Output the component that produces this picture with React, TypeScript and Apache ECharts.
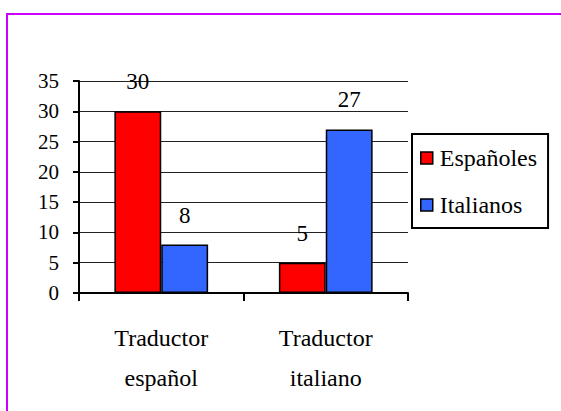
import React, { useEffect, useRef } from "react";
import * as echarts from "echarts";

const categories = ["Traductor\nespañol", "Traductor\nitaliano"];
const seriesNames = ["Españoles", "Italianos"];
const espanoles = [30, 5];
const italianos = [8, 27];
const yMin = 0;
const yMax = 35;
const yInterval = 5;

const FONT = "Liberation Serif";

const css = `.serif-chart text, .serif-chart tspan { font-family: "Liberation Serif", "Times New Roman", serif !important; }`;

export default function App() {
  const ref = useRef<HTMLDivElement>(null);
  useEffect(() => {
    if (!ref.current) return;
    const chart = echarts.init(ref.current, undefined, { renderer: "svg" });
    const barStyle = (color: string) => ({
      color,
      borderColor: "#000",
      borderWidth: 1.5,
    });
    const label = {
      show: true,
      position: "top" as const,
      distance: 18,
      fontFamily: FONT,
      fontSize: 23,
      color: "#000",
    };
    chart.setOption({
      animation: false,
      textStyle: { fontFamily: FONT },
      graphic: [
        {
          type: "rect",
          shape: { x: 7, y: 14, width: 600, height: 450 },
          style: { fill: "none", stroke: "#cc00ff", lineWidth: 2 },
          silent: true,
          z: -10,
        },
      ],
      grid: { left: 79, top: 81, right: 153, bottom: 118, containLabel: false },
      legend: {
        orient: "vertical",
        left: 412,
        top: 134,
        data: seriesNames,
        icon: "rect",
        itemWidth: 12,
        itemHeight: 12,
        itemGap: 23,
        padding: [12, 11, 11, 8],
        borderColor: "#000",
        borderWidth: 2,
        textStyle: {
          fontFamily: FONT,
          fontSize: 24,
          lineHeight: 24,
          color: "#000",
          padding: [0, 0, 0, 2],
        },
        itemStyle: { borderColor: "#000", borderWidth: 1.5 },
      },
      xAxis: {
        type: "category",
        data: categories,
        axisLine: { lineStyle: { color: "#000", width: 2 } },
        axisTick: { show: true, length: 8, lineStyle: { color: "#000", width: 2 } },
        axisLabel: {
          fontFamily: FONT,
          fontSize: 24,
          lineHeight: 40,
          color: "#000",
          margin: 25,
        },
        splitLine: { show: false },
      },
      yAxis: {
        type: "value",
        min: yMin,
        max: yMax,
        interval: yInterval,
        axisLine: { show: true, lineStyle: { color: "#000", width: 2 } },
        axisTick: { show: true, length: 6, lineStyle: { color: "#000", width: 2 } },
        axisLabel: {
          fontFamily: FONT,
          fontSize: 21,
          color: "#000",
          margin: 20,
        },
        splitLine: { show: true, lineStyle: { color: "#222", width: 1 } },
      },
      series: [
        {
          name: seriesNames[0],
          type: "bar",
          data: espanoles,
          itemStyle: barStyle("#ff0000"),
          label,
          barGap: "0%",
          barCategoryGap: "43%",
        },
        {
          name: seriesNames[1],
          type: "bar",
          data: italianos,
          itemStyle: barStyle("#3366ff"),
          label,
          barGap: "0%",
          barCategoryGap: "43%",
        },
      ],
    });
    return () => chart.dispose();
  }, []);
  return (
    <>
      <style>{css}</style>
      <div
        ref={ref}
        className="serif-chart"
        style={{ position: "fixed", left: 0, top: 0, width: 561, height: 411, background: "#fff" }}
      />
    </>
  );
}
